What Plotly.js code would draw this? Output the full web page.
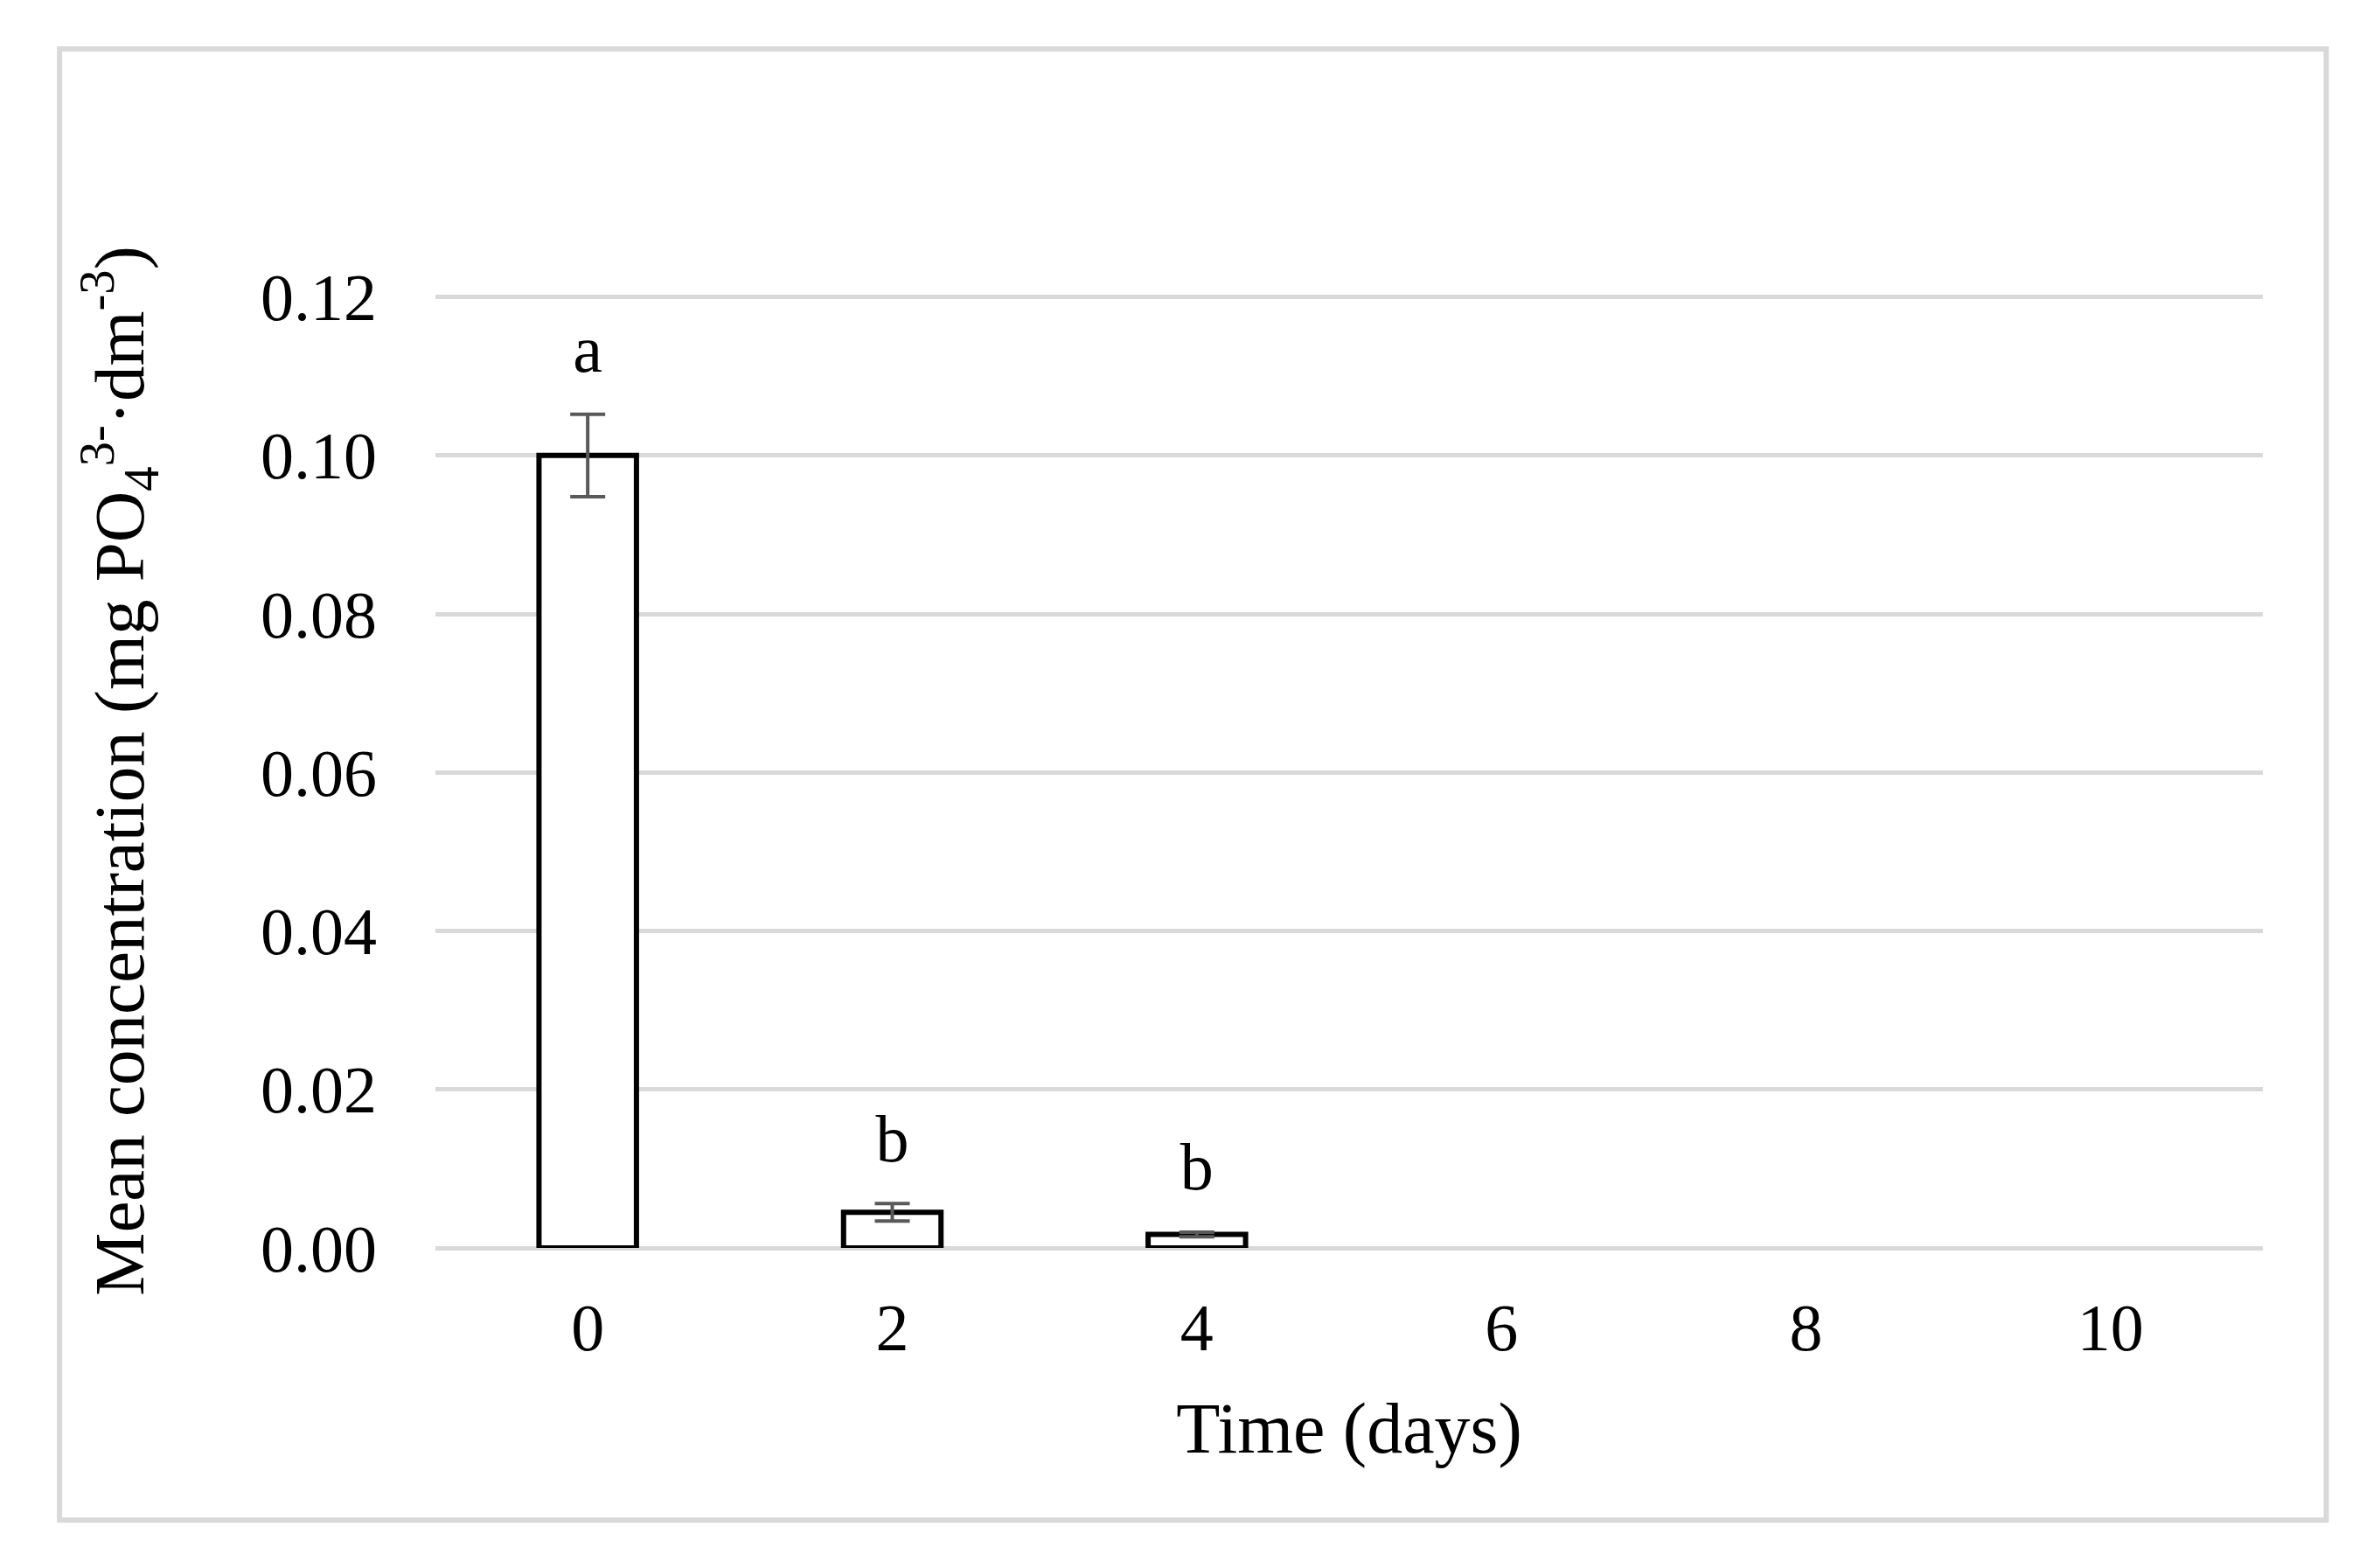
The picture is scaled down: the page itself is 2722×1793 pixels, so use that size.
<!DOCTYPE html>
<html>
<head>
<meta charset="utf-8">
<script src="https://cdn.plot.ly/plotly-3.0.1.min.js"></script>
<style>
  html, body { margin: 0; padding: 0; background: #ffffff; }
  #chart { width: 2722px; height: 1793px; }
</style>
</head>
<body>
<div id="chart"></div>
<script>
// Phosphate concentration over time (mean ± error), letters = significance groups
const days = ["0", "2", "4", "6", "8", "10"];
const meanConc = [0.1, 0.0045, 0.0017, null, null, null];
const errConc = [0.0052, 0.0011, 0.0003, null, null, null];
const groupLetters = ["a", "b", "b", "", "", ""];

const FONT = "Liberation Serif, Times New Roman, serif";
const GRID = "#d9d9d9";

const letterY = meanConc.map((v, i) => (v === null ? null : v + errConc[i]));

const data = [
  {
    type: "bar",
    x: days,
    y: meanConc,
    width: 0.32,
    marker: { color: "#ffffff", line: { color: "#000000", width: 6 } },
    error_y: {
      type: "data",
      array: errConc,
      visible: true,
      color: "#595959",
      thickness: 4,
      width: 20,
    },
    hoverinfo: "skip",
  },
  {
    // invisible marker only pushes the letter a bit above the error cap
    type: "scatter",
    mode: "markers+text",
    x: days,
    y: letterY,
    text: groupLetters,
    textposition: "top center",
    marker: { size: 46, color: "rgba(0,0,0,0)" },
    textfont: { family: FONT, size: 76, color: "#000000" },
    cliponaxis: false,
    hoverinfo: "skip",
  },
];

const layout = {
  width: 2722,
  height: 1793,
  showlegend: false,
  paper_bgcolor: "#ffffff",
  plot_bgcolor: "#ffffff",
  margin: { l: 498, r: 134, t: 336, b: 366 },
  font: { family: FONT, color: "#000000" },
  bargap: 0,
  xaxis: {
    type: "category",
    categoryorder: "array",
    categoryarray: days,
    range: [-0.5, 5.5],
    showgrid: false,
    showline: false,
    zeroline: false,
    ticks: "",
    ticklabelstandoff: 40,
    tickfont: { family: FONT, size: 76, color: "#000000" },
    title: {
      text: "Time (days)",
      font: { family: FONT, size: 82, color: "#000000" },
      standoff: 44,
    },
    fixedrange: true,
  },
  yaxis: {
    // a little headroom so the 0.12 gridline is not clipped at the edge
    range: [0, 0.1204],
    dtick: 0.02,
    tick0: 0,
    tickformat: ".2f",
    showgrid: true,
    gridcolor: GRID,
    gridwidth: 5,
    zeroline: true,
    zerolinecolor: GRID,
    zerolinewidth: 5,
    showline: false,
    ticks: "",
    ticklabelstandoff: 66,
    tickfont: { family: FONT, size: 76, color: "#000000" },
    title: {
      text: "Mean concentration (mg PO<sub>4</sub><sup>3-</sup>·dm<sup>-3</sup>)",
      font: { family: FONT, size: 81, color: "#000000" },
      standoff: 106,
    },
    fixedrange: true,
  },
  shapes: [
    {
      type: "rect",
      xref: "paper",
      yref: "paper",
      x0: -0.2057,
      x1: 1.0347,
      y0: -0.2852,
      y1: 1.2567,
      line: { color: GRID, width: 6 },
      layer: "below",
    },
  ],
};

Plotly.newPlot("chart", data, layout, { displayModeBar: false, staticPlot: true });
</script>
</body>
</html>
